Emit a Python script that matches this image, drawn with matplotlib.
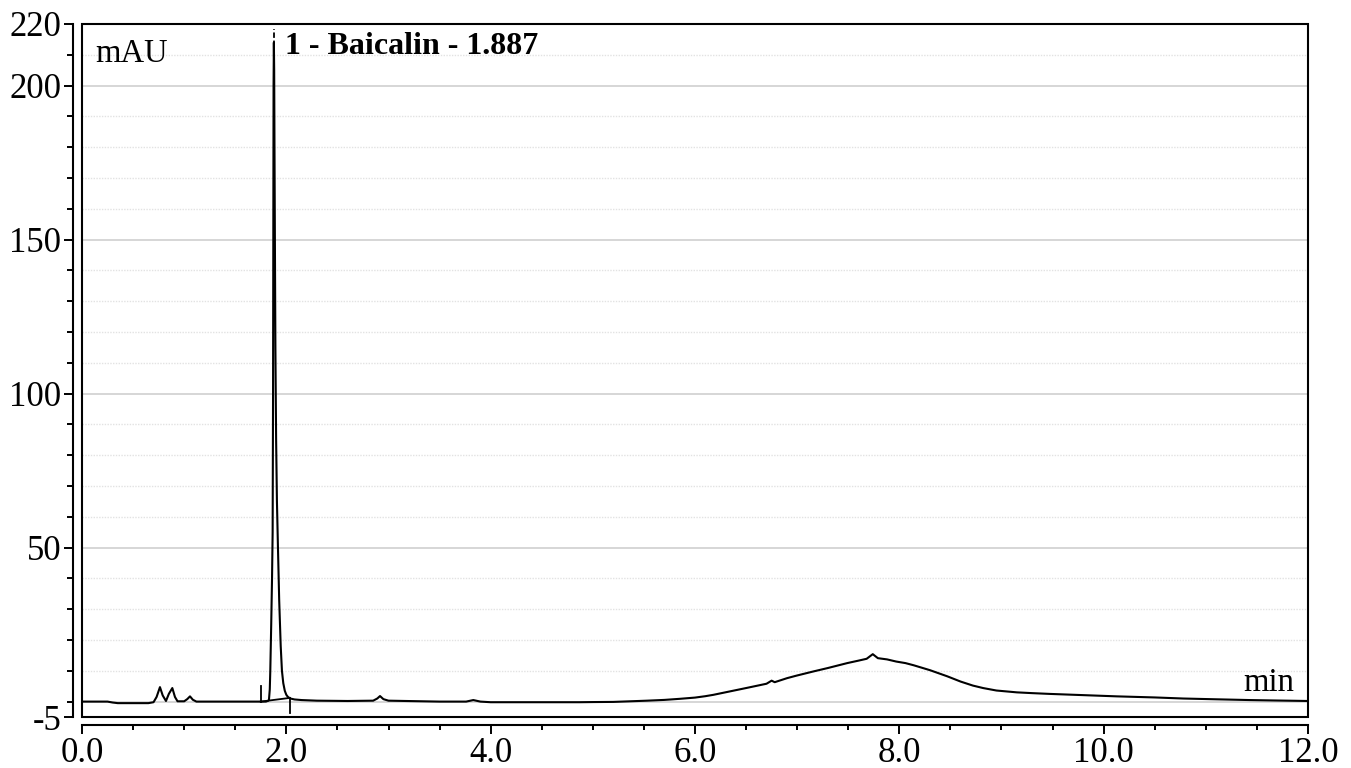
import matplotlib.pyplot as plt
from matplotlib.patches import Rectangle

# chromatogram trace (time in min, signal in mAU)
time_min = [0.0, 0.25, 0.3, 0.35, 0.65, 0.7, 0.73, 0.763, 0.79, 0.822, 0.85,
            0.884, 0.91, 0.935, 1.0, 1.03, 1.057, 1.085, 1.12, 1.5, 1.749,
            1.80, 1.824, 1.830, 1.838, 1.843, 1.852, 1.860, 1.866, 1.870,
            1.873, 1.875, 1.878, 1.881, 1.884, 1.888, 1.893, 1.900, 1.908,
            1.918, 1.93, 1.945, 1.957, 1.97, 1.985, 2.0, 2.016, 2.04, 2.08,
            2.15, 2.3, 2.6, 2.85, 2.89, 2.917, 2.95, 3.0, 3.5, 3.76, 3.83,
            3.9, 4.0, 4.5, 4.87, 5.0, 5.2, 5.53, 5.7, 5.85, 6.0, 6.1, 6.18,
            6.34, 6.5, 6.6, 6.70, 6.75, 6.78, 6.9, 6.99, 7.16, 7.3, 7.49,
            7.6, 7.68, 7.74, 7.79, 7.88, 7.97, 8.06, 8.14, 8.3, 8.47, 8.6,
            8.72, 8.82, 8.95, 9.15, 9.3, 9.47, 9.8, 10.13, 10.5, 10.78,
            11.1, 11.43, 11.7, 12.0]
signal_mau = [0.0, 0.0, -0.3, -0.5, -0.5, -0.2, 1.5, 4.7, 2.0, 0.2, 2.5,
              4.4, 1.5, 0.1, 0.1, 0.8, 1.7, 0.6, 0.0, 0.0, 0.0,
              0.0, 0.3, 0.6, 4.0, 10.0, 25.0, 40.0, 55.0, 100.0,
              160.0, 200.0, 214.0, 205.0, 180.0, 150.0, 115.0, 85.0, 65.0,
              50.0, 33.0, 18.0, 10.0, 6.0, 3.5, 2.2, 1.5, 1.0, 0.7,
              0.5, 0.3, 0.2, 0.3, 1.0, 1.8, 0.8, 0.3, 0.0, 0.0, 0.5,
              0.0, -0.2, -0.2, -0.2, -0.15, -0.1, 0.3, 0.55, 0.9, 1.3, 1.75,
              2.2, 3.3, 4.4, 5.1, 5.8, 6.8, 6.3, 7.6, 8.4, 9.8, 10.9, 12.5,
              13.3, 13.9, 15.4, 14.1, 13.7, 13.0, 12.5, 11.8, 10.2, 8.2, 6.5,
              5.2, 4.4, 3.6, 3.0, 2.75, 2.5, 2.1, 1.7, 1.35, 1.0,
              0.75, 0.5, 0.35, 0.2]

peak_name = "1 - Baicalin - 1.887"
peak_rt = 1.887
peak_start, peak_end = 1.749, 2.034
base_start, base_end = 0.0, 1.2

y_major = [-5, 50, 100, 150, 200, 220]
y_minor = [0, 10, 20, 30, 40, 60, 70, 80, 90, 110, 120, 130, 140,
           160, 170, 180, 190, 210]
grid_solid = [0, 50, 100, 150, 200]
grid_dotted = [10, 20, 30, 40, 60, 70, 80, 90, 110, 120, 130, 140,
               160, 170, 180, 190, 210]
x_major = [0, 2, 4, 6, 8, 10, 12]
x_minor = [0.5, 1, 1.5, 2.5, 3, 3.5, 4.5, 5, 5.5, 6.5, 7, 7.5, 8.5, 9,
           9.5, 10.5, 11, 11.5]

plt.rcParams['font.family'] = ['Liberation Serif', 'DejaVu Serif']

fig = plt.figure(figsize=(13.51, 7.68), dpi=100)
ax = fig.add_axes([82 / 1351, 51 / 768, 1226 / 1351, 693 / 768])

for g in grid_solid:
    ax.axhline(g, color='#cfcfcf', lw=1.2, zorder=0)
for g in grid_dotted:
    ax.axhline(g, color='#e2e2e2', lw=1.0, ls=(0, (1, 1)), zorder=0)

ax.plot(time_min, signal_mau, color='black', lw=1.5, zorder=3)

# integration baseline and delimiters
ax.plot([peak_start, peak_end], [base_start, base_end], color='black', lw=1.3)
ax.plot([peak_start, peak_start], [0, 5.2], color='black', lw=1.3)
ax.plot([peak_end, peak_end], [base_end, -3.6], color='black', lw=1.3)
ax.plot([peak_rt - 0.008, peak_rt - 0.008], [213, 218.5], color='black',
        lw=1.3, ls=(0, (3, 1.5)))

ax.text(1.99, 210.2, peak_name, fontsize=23, fontweight='bold',
        ha='left', va='baseline')
ax.text(0.13, 207.7, 'mAU', fontsize=23.5, ha='left', va='baseline')
ax.text(11.86, 3.5, 'min', fontsize=23.5, ha='right', va='baseline')

ax.set_xlim(0, 12)
ax.set_ylim(-5, 220)

ax.set_xticks(x_major)
ax.set_xticklabels([f"{v:.1f}" for v in x_major])
ax.set_xticks(x_minor, minor=True)
ax.set_yticks(y_major)
ax.set_yticklabels([str(v) for v in y_major])
ax.set_yticks(y_minor, minor=True)

ax.tick_params(axis='both', which='major', labelsize=25, width=1.4,
               length=6.5, color='black', pad=2)
ax.tick_params(axis='both', which='minor', width=1.4, length=4)
ax.tick_params(axis='x', which='minor', length=3.5)

for s in ['top', 'right']:
    ax.spines[s].set_visible(False)
ax.spines['left'].set_position(('outward', 6.5))
ax.spines['bottom'].set_position(('outward', 6))
ax.spines['left'].set_linewidth(1.5)
ax.spines['bottom'].set_linewidth(1.5)

# frame around the plotting area
ax.add_patch(Rectangle((0, 0), 1, 1, transform=ax.transAxes, fill=False,
                       edgecolor='black', lw=1.5, clip_on=False, zorder=5))

fig.savefig('out.png', dpi=100)
